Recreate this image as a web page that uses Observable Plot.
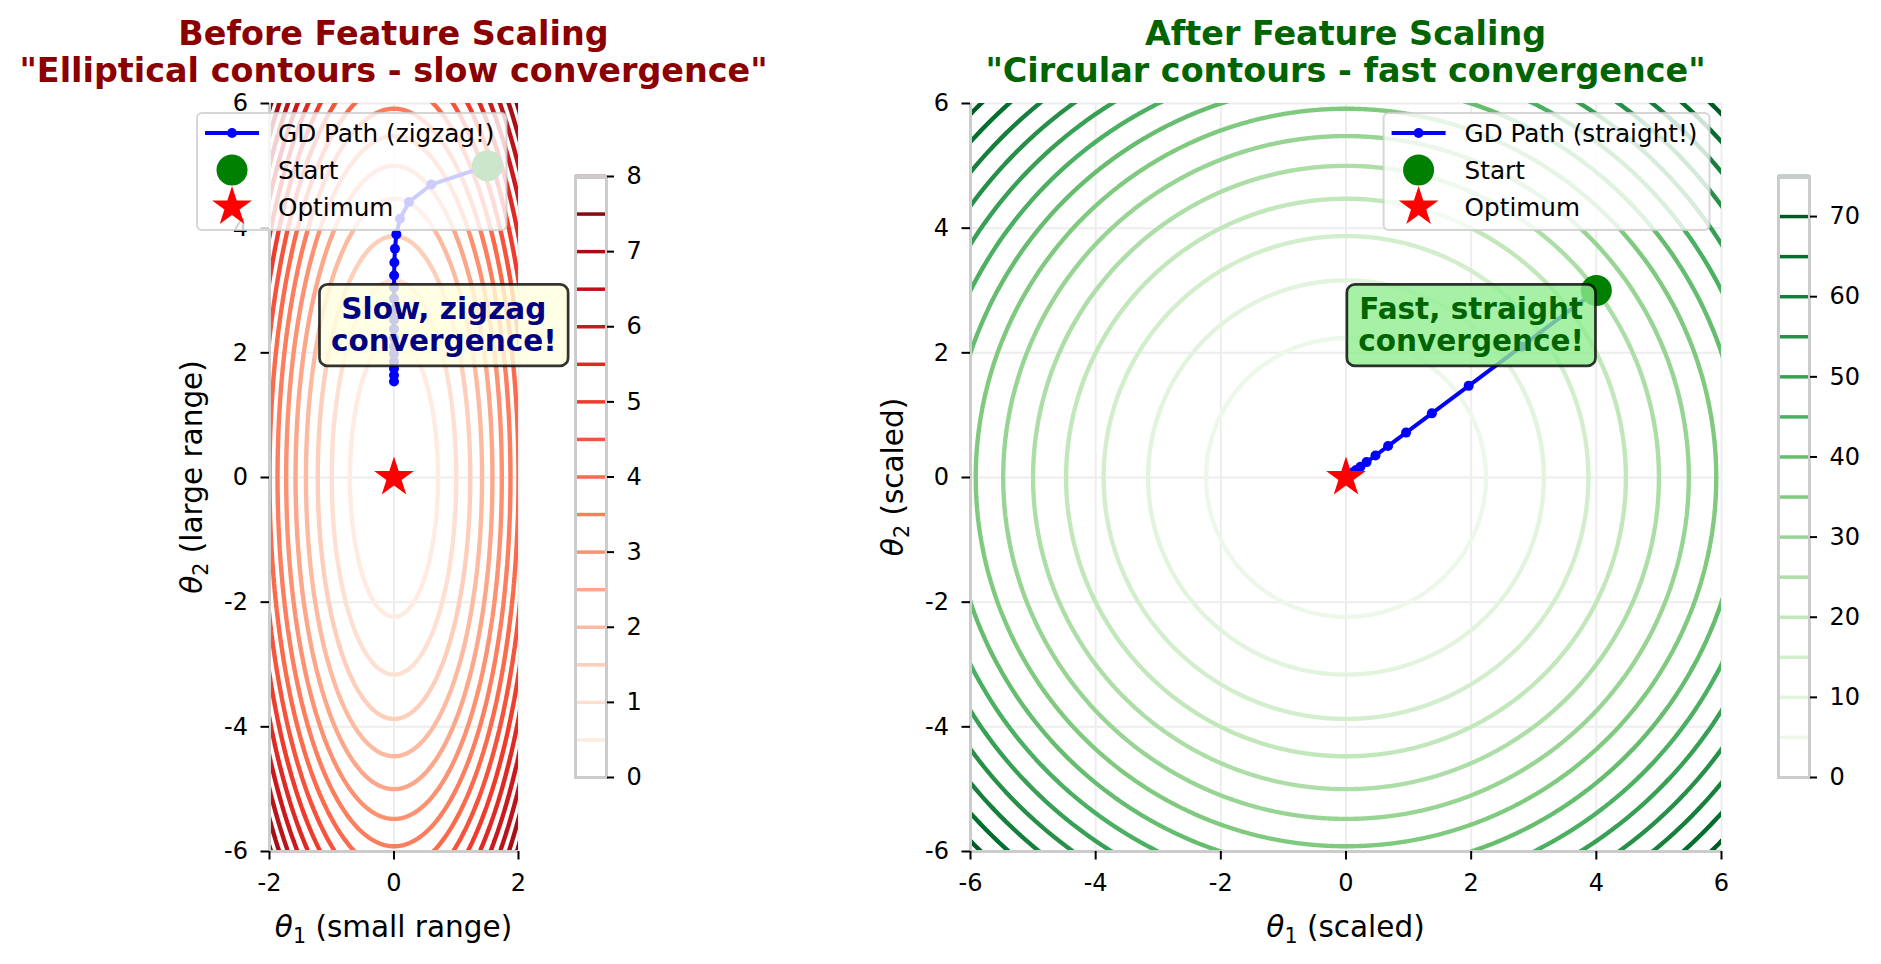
<!DOCTYPE html>
<html><head><meta charset="utf-8">
<script src="https://cdn.jsdelivr.net/npm/d3@7"></script>
<script src="https://cdn.jsdelivr.net/npm/@observablehq/plot@0.6"></script>
<style>
body{margin:0;background:#fff;}
#fig{position:relative;width:1881px;height:964px;overflow:hidden;font-family:"DejaVu Sans",sans-serif;background:#fff;}
#fig svg{position:absolute;left:0;top:0;overflow:visible;}
</style></head><body><div id="fig"></div>
<script>
// ---------------- data ----------------
const levelsLeft = [0,0.5,1,1.5,2,2.5,3,3.5,4,4.5,5,5.5,6,6.5,7,7.5,8];
const levelsRight = [0,5,10,15,20,25,30,35,40,45,50,55,60,65,70,75];
const cbTicksLeft = [0,1,2,3,4,5,6,7,8];
const cbTicksRight = [0,10,20,30,40,50,60,70];
const costWeightsLeft = [1, 0.1];   // J = w1*θ1² + w2*θ2²
const costWeightsRight = [1, 1];
const xTicksLeft = [-2,0,2];
const xTicksRight = [-6,-4,-2,0,2,4,6];
const yTicks = [-6,-4,-2,0,2,4,6];
const pathLeftT1 = [1.5,0.6,0.24,0.096,0.038,0.015,0.006,0.002,0.001,0,0,0,0,0,0,0,0,0,0,0];
const pathLeftT2 = [5.0,4.70,4.42,4.15,3.90,3.67,3.45,3.24,3.05,2.87,2.69,2.53,2.38,2.24,2.10,1.98,1.86,1.75,1.64,1.54];
const pathRightT1 = [4,2.8,1.96,1.372,0.960,0.672,0.471,0.329,0.231,0.161,0.113,0.079,0.055,0.039,0.027,0.019,0.013,0.009,0.006,0.005];
const pathRightT2 = [3,2.1,1.47,1.029,0.720,0.504,0.353,0.247,0.173,0.121,0.085,0.059,0.042,0.029,0.020,0.014,0.010,0.007,0.005,0.003];
const startLeft = [1.5, 5.0];
const startRight = [4, 3];
const optimum = [0, 0];
const redsColors = ["#fff5f0","#fee0d2","#fcbba1","#fc9272","#fb6a4a","#ef3b2c","#cb181d","#a50f15","#67000d"];
const greensColors = ["#f7fcf5","#e5f5e0","#c7e9c0","#a1d99b","#74c476","#41ab5d","#238b45","#006d2c","#00441b"];
const titlesLeft = ["Before Feature Scaling", "\"Elliptical contours - slow convergence\""];
const titlesRight = ["After Feature Scaling", "\"Circular contours - fast convergence\""];
const legendLeft = ["GD Path (zigzag!)", "Start", "Optimum"];
const legendRight = ["GD Path (straight!)", "Start", "Optimum"];
const annotLeft = {x: 0.8, y: 2.45, text: "Slow, zigzag\nconvergence!"};
const annotRight = {x: 2.0, y: 2.45, text: "Fast, straight\nconvergence!"};
const xLabelLeft = ["1", " (small range)"], yLabelLeft = ["2", " (large range)"];
const xLabelRight = ["1", " (scaled)"], yLabelRight = ["2", " (scaled)"];

// ---------------- layout ----------------
const W = 1881, H = 964;
const fig = d3.select("#fig");
const FONT = "DejaVu Sans";

function mathLabel(t, sub, rest, fs) {
  t.append("tspan").attr("font-style", "italic").text("θ");
  t.append("tspan").attr("font-size", (fs * 0.7) + "px").attr("dy", fs * 0.2).text(sub);
  t.append("tspan").attr("dy", -fs * 0.2).text(rest);
}

function buildPanel(cfg) {
  const pathData = cfg.pathT1.map((t1, i) => ({t1, t2: cfg.pathT2[i]}));
  const colorOpts = {type: "linear", domain: [cfg.levels[0], cfg.levels[cfg.levels.length - 1]],
    interpolate: d3.piecewise(d3.interpolateRgb, cfg.colors)};
  const [fl, fr, ft, fb] = cfg.frame;
  const plot = Plot.plot({
    width: W, height: H,
    marginLeft: fl, marginRight: W - fr, marginTop: ft, marginBottom: H - fb,
    style: {fontFamily: FONT, fontSize: "24px", background: "transparent", overflow: "visible", color: "black"},
    x: {domain: cfg.xDomain},
    y: {domain: cfg.yDomain},
    color: colorOpts,
    marks: [
      Plot.gridX(cfg.xTicks, {stroke: "#ededed", strokeOpacity: 1, strokeWidth: 2}),
      Plot.gridY(cfg.yTicks, {stroke: "#ededed", strokeOpacity: 1, strokeWidth: 2}),
      Plot.contour({value: (x, y) => cfg.weights[0] * x * x + cfg.weights[1] * y * y,
        x1: cfg.ext[0], x2: cfg.ext[1], y1: cfg.ext[2], y2: cfg.ext[3],
        thresholds: cfg.levels, stroke: "value", fill: "none", strokeWidth: 4.4, clip: true, pixelSize: 1}),
      Plot.ruleX([cfg.xDomain[0]], {stroke: "#cccccc", strokeWidth: 3}),
      Plot.ruleY([cfg.yDomain[0]], {stroke: "#cccccc", strokeWidth: 3}),
      Plot.axisX(cfg.xTicks, {tickSize: 8.5, tickPadding: 14, tickFormat: d => String(d), fontSize: 24, strokeWidth: 2, label: null}),
      Plot.axisY(cfg.yTicks, {tickSize: 8.5, tickPadding: 13, tickFormat: d => String(d), fontSize: 24, strokeWidth: 2, label: null}),
      Plot.line(pathData, {x: "t1", y: "t2", stroke: "blue", strokeWidth: 4}),
      Plot.dot(pathData, {x: "t1", y: "t2", fill: "blue", r: 5}),
      Plot.dot([cfg.start], {x: d => d[0], y: d => d[1], fill: "green", r: 15.5}),
      Plot.dot([optimum], {x: d => d[0], y: d => d[1], fill: "red", symbol: "star", r: 12.5}),
      Plot.text([cfg.annot], {x: "x", y: "y", text: "text", fontSize: 29.5, fontWeight: "bold", fill: cfg.annotColor, lineHeight: 1.1})
    ]
  });
  fig.node().appendChild(plot);
  const svg = d3.select(plot);

  // annotation box
  const tg = plot.querySelector('g[aria-label="text"]');
  const bb = tg.getBBox();
  d3.select(tg).insert("rect", ":first-child")
    .attr("x", bb.x - 11.5).attr("y", bb.y - 7.5).attr("width", bb.width + 23).attr("height", bb.height + 15)
    .attr("rx", 8).attr("fill", cfg.boxFill).attr("fill-opacity", 0.8)
    .attr("stroke", "black").attr("stroke-opacity", 0.8).attr("stroke-width", 2.7);

  // legend (upper right)
  const lg = svg.append("g").attr("text-anchor", "start");
  const top = ft + 10, right = fr - 11.5;
  const rows = [top + 20, top + 57, top + 94];
  const box = lg.append("rect").attr("y", top).attr("height", 117).attr("rx", 5)
    .attr("fill", "white").attr("fill-opacity", 0.8).attr("stroke", "#cccccc").attr("stroke-opacity", 0.8).attr("stroke-width", 2);
  const texts = cfg.legend.map((s, i) => lg.append("text").attr("y", rows[i]).attr("dy", "0.35em")
    .attr("text-anchor", "start").attr("font-size", 24.7).attr("font-family", FONT).attr("fill", "black").text(s));
  const maxW = d3.max(texts, t => t.node().getComputedTextLength());
  const left = right - (81 + maxW + 12);
  box.attr("x", left).attr("width", right - left);
  texts.forEach(t => t.attr("x", left + 81));
  const hx = left + 35;
  lg.append("line").attr("x1", hx - 27).attr("x2", hx + 27).attr("y1", rows[0]).attr("y2", rows[0]).attr("stroke", "blue").attr("stroke-width", 4);
  lg.append("circle").attr("cx", hx).attr("cy", rows[0]).attr("r", 5).attr("fill", "blue");
  lg.append("circle").attr("cx", hx).attr("cy", rows[1]).attr("r", 15.5).attr("fill", "green");
  lg.append("path").attr("d", d3.symbol(d3.symbolStar, Math.PI * 12.5 * 12.5)()).attr("transform", `translate(${hx},${rows[2]})`).attr("fill", "red");

  // titles
  const cx = (fl + fr) / 2;
  cfg.titles.forEach((s, i) => svg.append("text").attr("x", cx).attr("y", 45 + 37 * i).attr("text-anchor", "middle")
    .attr("font-size", 33.4).attr("font-weight", "bold").attr("font-family", FONT).attr("fill", cfg.titleColor).text(s));

  // axis labels
  const xl = svg.append("text").attr("x", cx).attr("y", 937).attr("text-anchor", "middle").attr("font-size", 29.5).attr("font-family", FONT).attr("fill", "black");
  mathLabel(xl, cfg.xLabel[0], cfg.xLabel[1], 29.5);
  const yl = svg.append("text").attr("transform", `translate(${cfg.yLabelX},${(ft + fb) / 2}) rotate(-90)`).attr("dy", "0.35em")
    .attr("text-anchor", "middle").attr("font-size", 29.5).attr("font-family", FONT).attr("fill", "black");
  mathLabel(yl, cfg.yLabel[0], cfg.yLabel[1], 29.5);

  // colorbar
  const [cl, cr, ct, cbt] = cfg.cbFrame;
  const cb = Plot.plot({
    width: W, height: H,
    marginLeft: cl, marginRight: W - cr, marginTop: ct, marginBottom: H - cbt,
    style: {fontFamily: FONT, fontSize: "24px", background: "transparent", overflow: "visible", color: "black"},
    x: {domain: [0, 1], axis: null},
    y: {domain: [cfg.levels[0], cfg.levels[cfg.levels.length - 1]]},
    color: colorOpts,
    marks: [
      Plot.ruleY(cfg.levels, {y: d => d, stroke: d => d, strokeWidth: 3.5}),
      Plot.frame({stroke: "#cccccc", strokeWidth: 3}),
      Plot.axisY(cfg.cbTicks, {anchor: "right", tickSize: 7, tickPadding: 13, tickFormat: d => String(d), fontSize: 24, strokeWidth: 2, label: null})
    ]
  });
  fig.node().appendChild(cb);
}

buildPanel({
  frame: [269, 518, 103, 851], cbFrame: [575, 606, 176, 777],
  xDomain: [-2, 2], yDomain: [-6, 6], xTicks: xTicksLeft, yTicks: yTicks,
  ext: [-2.6, 2.6, -7, 7], weights: costWeightsLeft, levels: levelsLeft, cbTicks: cbTicksLeft, colors: redsColors,
  pathT1: pathLeftT1, pathT2: pathLeftT2, start: startLeft, annot: annotLeft,
  annotColor: "#000080", boxFill: "#ffffe0", legend: legendLeft, titles: titlesLeft, titleColor: "#8b0000",
  xLabel: xLabelLeft, yLabel: yLabelLeft, yLabelX: 192
});
buildPanel({
  frame: [970, 1721, 103, 851], cbFrame: [1778, 1809, 176, 777],
  xDomain: [-6, 6], yDomain: [-6, 6], xTicks: xTicksRight, yTicks: yTicks,
  ext: [-7, 7, -7, 7], weights: costWeightsRight, levels: levelsRight, cbTicks: cbTicksRight, colors: greensColors,
  pathT1: pathRightT1, pathT2: pathRightT2, start: startRight, annot: annotRight,
  annotColor: "#006400", boxFill: "#90ee90", legend: legendRight, titles: titlesRight, titleColor: "#006400",
  xLabel: xLabelRight, yLabel: yLabelRight, yLabelX: 893
});
</script></body></html>
